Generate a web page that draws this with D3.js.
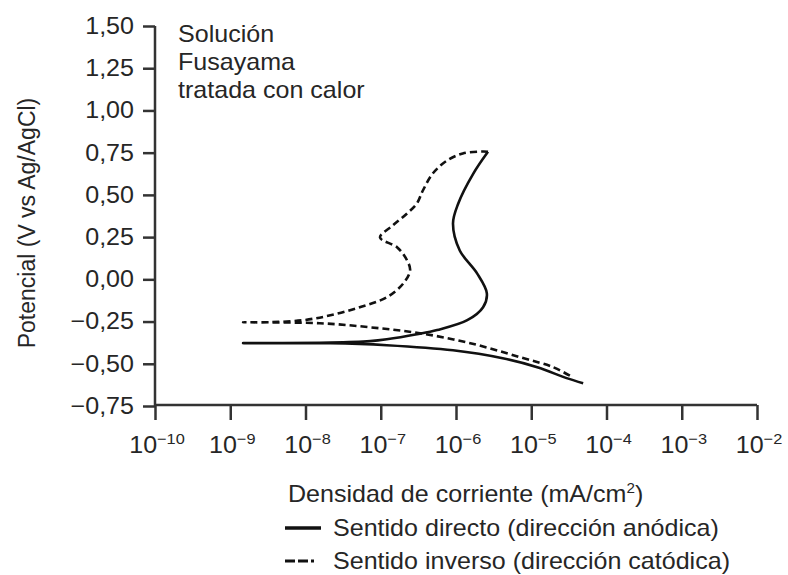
<!DOCTYPE html>
<html lang="es">
<head>
<meta charset="UTF-8">
<title>Curva de polarización - Solución Fusayama</title>
<script src="https://d3js.org/d3.v7.min.js"></script>
<style>
    body { margin: 0; background: #fff; }
    text { font-family: "Liberation Sans", Arial, Helvetica, sans-serif; fill: #262626; }
    .axis path, .axis line { stroke: #333; stroke-width: 2.5; }
    .curve { fill: none; stroke: #111; stroke-width: 2.6; }
    .dashed { stroke-dasharray: 7,4; }
</style>
</head>
<body>
<svg id="chart" width="788" height="575"></svg>
<script>
// x values are log10 of current density (mA/cm2), y values are potential (V vs Ag/AgCl)
const xExponents = [-10, -9, -8, -7, -6, -5, -4, -3, -2];
const yTicks = [-0.75, -0.5, -0.25, 0, 0.25, 0.5, 0.75, 1, 1.25, 1.5];

// forward sweep (anodic direction): cathodic branch -> Ecorr -> anodic branch
const fwdLogI = [-4.31, -4.53, -4.92, -5.38, -6.04, -6.92, -7.67, -8.83,
                 -7.67, -7.14, -6.92, -6.52, -6.25, -5.85, -5.64, -5.59,
                 -5.72, -5.95, -6.04, -5.97, -5.77, -5.575];
const fwdV    = [-0.615, -0.585, -0.52, -0.467, -0.42, -0.39, -0.378, -0.378,
                 -0.375, -0.366, -0.355, -0.325, -0.30, -0.242, -0.165, -0.083,
                 0.035, 0.171, 0.331, 0.449, 0.626, 0.755];

// reverse sweep (cathodic direction)
const revLogI = [-5.575, -5.64, -5.91, -6.12, -6.31, -6.44, -6.52, -6.65, -6.84, -7.01,
                 -6.78, -6.65, -6.61, -6.70, -6.92, -7.28, -7.67, -8.03, -8.47, -8.83,
                 -7.81, -7.14, -6.48, -5.81, -5.15, -4.71, -4.45];
const revV    = [0.755, 0.757, 0.745, 0.703, 0.626, 0.526, 0.449, 0.39, 0.319, 0.248,
                 0.189, 0.112, 0.053, -0.024, -0.106, -0.165, -0.213, -0.242, -0.254, -0.254,
                 -0.26, -0.284, -0.319, -0.378, -0.461, -0.52, -0.58];

const noteLines = ["Solución", "Fusayama", "tratada con calor"];
const legendItems = [
    { label: "Sentido directo (dirección anódica)", dashed: false },
    { label: "Sentido inverso (dirección catódica)", dashed: true }
];

const svg = d3.select("#chart");
const sx = 1.09; // the printed type is a bit wide

const x = d3.scaleLog().domain([1e-10, 1e-2]).range([155, 757]);
const y = d3.scaleLinear().domain([-0.75, 1.5]).range([406, 26]);

// widen a text element around its own anchor point
function widen(t, px, py) {
    t.attr("x", null).attr("y", null)
     .attr("transform", `translate(${px},${py}) scale(${sx},1)`);
}

// y axis
const yAxis = svg.append("g")
    .attr("class", "axis")
    .attr("transform", "translate(155,0)")
    .call(d3.axisLeft(y)
        .tickValues(yTicks)
        .tickSize(12)
        .tickPadding(9)
        .tickFormat(d => d3.format(".2f")(d).replace(".", ",").replace("-", "\u2013")));
yAxis.select(".domain").attr("d", "M0," + y(1.5) + "V" + y(-0.75));
yAxis.selectAll("text")
    .style("font-size", "23px")
    .attr("fill", "#262626")
    .each(function() { widen(d3.select(this), -21, 0); });

// x axis
const xAxis = svg.append("g")
    .attr("class", "axis")
    .attr("transform", "translate(0,405)")
    .call(d3.axisBottom(x)
        .tickValues(xExponents.map(e => Math.pow(10, e)))
        .tickSize(15)
        .tickFormat(""));
xAxis.select(".domain").attr("d", "M" + x(1e-10) + ",0H" + x(1e-2));

const xLabels = svg.append("g");
xExponents.forEach(e => {
    const t = xLabels.append("text")
        .attr("text-anchor", "middle")
        .style("font-size", "23px");
    t.append("tspan").text("10");
    t.append("tspan").attr("dy", -9).style("font-size", "15px").text("\u2212" + Math.abs(e));
    widen(t, x(Math.pow(10, e)) + 2, 453);
});

// curves
const line = d3.line()
    .x(d => x(Math.pow(10, d[0])))
    .y(d => y(d[1]))
    .curve(d3.curveCatmullRom.alpha(0.5));

svg.append("path")
    .datum(d3.zip(revLogI, revV))
    .attr("class", "curve dashed")
    .attr("d", line);

svg.append("path")
    .datum(d3.zip(fwdLogI, fwdV))
    .attr("class", "curve")
    .attr("d", line);

// annotation
noteLines.forEach((s, i) => {
    const t = svg.append("text").style("font-size", "23px").text(s);
    widen(t, 178, 42 + i * 28);
});

// y axis title
svg.append("text")
    .attr("transform", "translate(35,223) rotate(-90)")
    .attr("text-anchor", "middle")
    .style("font-size", "23px")
    .text("Potencial (V vs Ag/AgCl)");

// x axis title
const xTitle = svg.append("text").style("font-size", "23px");
xTitle.append("tspan").text("Densidad de corriente (mA/cm");
xTitle.append("tspan").attr("dy", -9).style("font-size", "14px").text("2");
xTitle.append("tspan").attr("dy", 9).text(")");
widen(xTitle, 288, 502);

// legend
const legend = svg.append("g").selectAll("g")
    .data(legendItems)
    .join("g")
    .attr("transform", (d, i) => "translate(285," + (528 + i * 33) + ")");

legend.append("line")
    .attr("x1", 0).attr("x2", 36)
    .attr("stroke", "#111")
    .attr("stroke-width", d => d.dashed ? 3 : 3.5)
    .attr("stroke-dasharray", d => d.dashed ? "10,3,10,3,3" : null);

legend.append("text")
    .style("font-size", "23px")
    .text(d => d.label)
    .each(function() { widen(d3.select(this), 48, 8); });
</script>
</body>
</html>
